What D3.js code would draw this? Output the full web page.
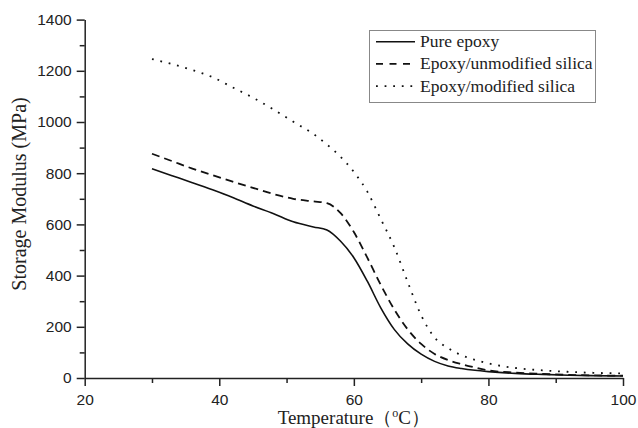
<!DOCTYPE html>
<html>
<head>
<meta charset="utf-8">
<script src="https://cdn.jsdelivr.net/npm/d3@7"></script>
<style>
  body { margin: 0; background: #fff; }
  svg { display: block; }
</style>
</head>
<body>
<div id="chart"></div>
<script>
// temperature (°C) sample points shared by all series
var temps = [30, 33, 36, 39, 42, 45, 48, 51, 54, 56, 58, 60, 62, 64, 66, 68, 70, 72, 74, 76, 78, 80, 84, 88, 92, 96, 100];

// storage modulus (MPa)
var pureEpoxy = [817, 790, 763, 735, 705, 672, 643, 610, 590, 578, 535, 470, 378, 274, 190, 133, 93, 65, 47, 37, 30, 25, 18, 14, 11, 9, 8];
var unmodifiedSilica = [876, 847, 818, 792, 767, 743, 719, 700, 690, 683, 645, 570, 470, 364, 268, 190, 133, 94, 70, 54, 41, 30, 21, 16, 12, 10, 9];
var modifiedSilica = [1246, 1226, 1203, 1175, 1135, 1095, 1050, 1001, 953, 912, 865, 805, 728, 621, 512, 375, 245, 158, 117, 89, 71, 57, 39, 30, 24, 20, 18];

var seriesNames = ["Pure epoxy", "Epoxy/unmodified silica", "Epoxy/modified silica"];

var xTicks = [20, 40, 60, 80, 100];
var xMinor = [30, 50, 70, 90];
var yTicks = [0, 200, 400, 600, 800, 1000, 1200, 1400];
var yMinor = [100, 300, 500, 700, 900, 1100, 1300];

var svgWidth = 638;
var svgHeight = 428;

var margin = { top: 19.6, right: 15, bottom: 50, left: 84.7 };
var width = 623 - margin.left;
var height = 378 - margin.top;

var svg = d3.select("#chart")
    .append("svg")
    .attr("width", svgWidth)
    .attr("height", svgHeight);

var chartGroup = svg.append("g")
    .attr("transform", `translate(${margin.left}, ${margin.top})`);

// scales
var xScale = d3.scaleLinear().domain([20, 100]).range([0, width]);
var yScale = d3.scaleLinear().domain([0, 1400]).range([height, 0]);

var ink = "#222";

// minor ticks first
chartGroup.append("g")
    .attr("class", "minor")
    .call(d3.axisLeft(yScale).tickValues(yMinor).tickSize(5).tickFormat(""));
chartGroup.append("g")
    .attr("class", "minor")
    .attr("transform", `translate(0, ${height})`)
    .call(d3.axisBottom(xScale).tickValues(xMinor).tickSize(5).tickFormat(""));

// major axes
chartGroup.append("g")
    .call(d3.axisLeft(yScale).tickValues(yTicks).tickFormat(d3.format("d"))
        .tickSize(8).tickSizeOuter(0).tickPadding(5));
chartGroup.append("g")
    .attr("transform", `translate(0, ${height})`)
    .call(d3.axisBottom(xScale).tickValues(xTicks).tickFormat(d3.format("d"))
        .tickSize(8).tickSizeOuter(0).tickPadding(8));

chartGroup.selectAll(".minor .domain").remove();
chartGroup.selectAll(".domain, .tick line")
    .attr("stroke", ink)
    .attr("stroke-width", 1.5);
chartGroup.selectAll(".tick text")
    .attr("fill", ink)
    .style("font-family", "'Liberation Sans', Arial, sans-serif")
    .style("font-size", "15.5px");

// lines
var styles = [
    { dash: null, width: 1.6 },
    { dash: "8,5", width: 1.8 },
    { dash: "1.8,6.8", width: 1.8 }
];
var allSeries = [pureEpoxy, unmodifiedSilica, modifiedSilica];

var line = d3.line()
    .x((d, i) => xScale(temps[i]))
    .y(d => yScale(d))
    .curve(d3.curveMonotoneX);

chartGroup.selectAll(".curve")
    .data(allSeries)
    .enter()
    .append("path")
    .attr("class", "curve")
    .attr("d", d => line(d))
    .attr("fill", "none")
    .attr("stroke", "#111")
    .attr("stroke-width", (d, i) => styles[i].width)
    .attr("stroke-dasharray", (d, i) => styles[i].dash);

// axis titles
var serif = "'Liberation Serif', 'Times New Roman', serif";

svg.append("text")
    .attr("transform", `translate(26, 194) rotate(-90)`)
    .attr("text-anchor", "middle")
    .attr("fill", ink)
    .style("font-family", serif)
    .style("font-size", "20px")
    .text("Storage Modulus (MPa)");

var xTitle = svg.append("text")
    .attr("x", margin.left + width / 2)
    .attr("y", 424)
    .attr("text-anchor", "middle")
    .attr("fill", ink)
    .style("font-family", serif)
    .style("font-size", "19px");
xTitle.append("tspan").text("Temperature\uFF08");
xTitle.append("tspan").attr("dy", "-7").style("font-size", "12px").text("o");
xTitle.append("tspan").attr("dy", "7").text("C\uFF09");

// legend
var legend = svg.append("g");
legend.append("rect")
    .attr("x", 369.5)
    .attr("y", 30.5)
    .attr("width", 226)
    .attr("height", 72)
    .attr("fill", "#fff")
    .attr("stroke", "#888")
    .attr("stroke-width", 1);

var legendRows = legend.selectAll(".row")
    .data(seriesNames)
    .enter()
    .append("g")
    .attr("class", "row")
    .attr("transform", (d, i) => `translate(0, ${41.7 + i * 22.2})`);

legendRows.append("line")
    .attr("x1", 376)
    .attr("x2", 415)
    .attr("stroke", "#111")
    .attr("stroke-width", (d, i) => styles[i].width)
    .attr("stroke-dasharray", (d, i) => i === 1 ? "7,6.5" : styles[i].dash);

legendRows.append("text")
    .attr("x", 420)
    .attr("y", 5.5)
    .attr("fill", ink)
    .style("font-family", serif)
    .style("font-size", "17.5px")
    .text(d => d);
</script>
</body>
</html>
